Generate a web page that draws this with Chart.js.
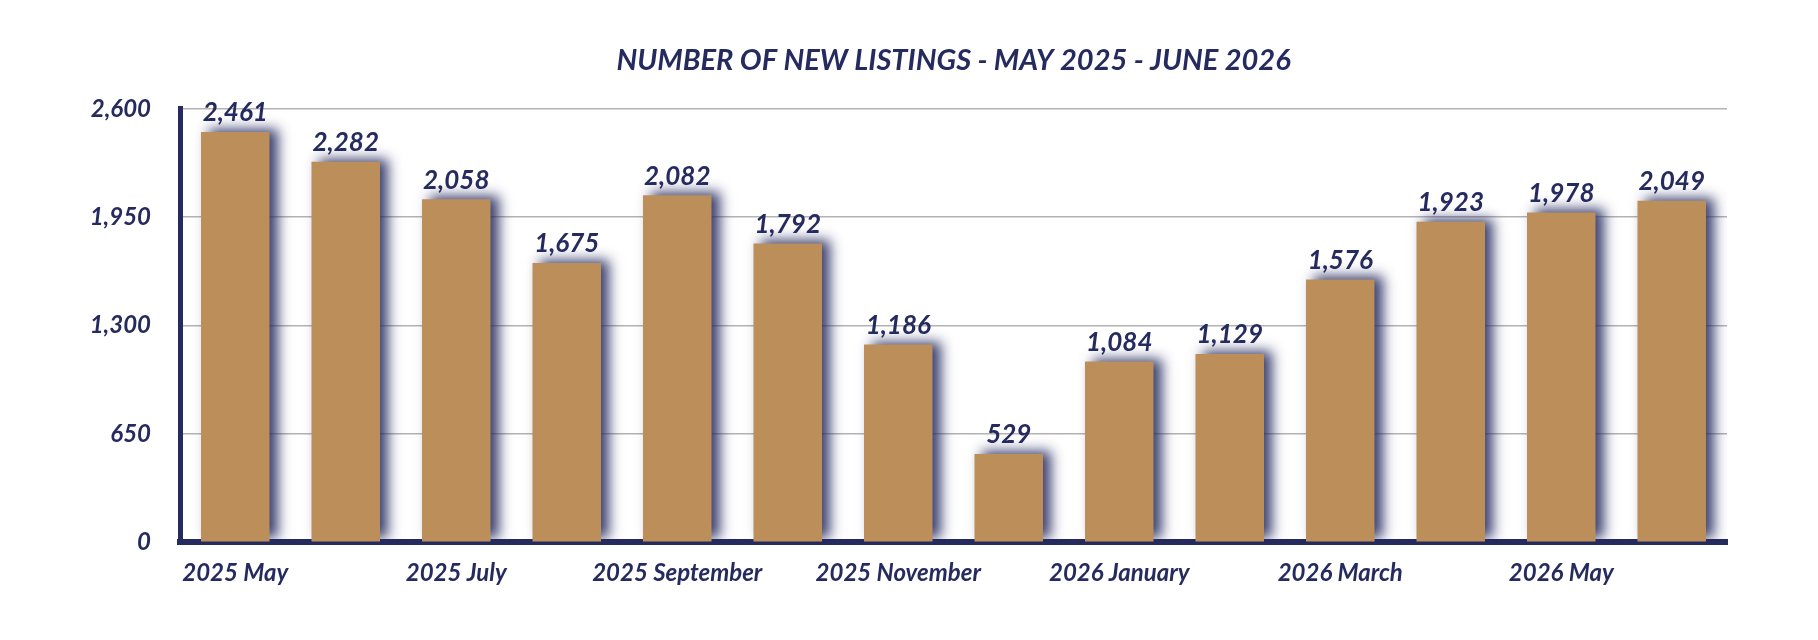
<!DOCTYPE html>
<html>
<head>
<meta charset="utf-8">
<script src="https://cdn.jsdelivr.net/npm/chart.js@4.4.0/dist/chart.umd.min.js"></script>
<style>
  html, body { margin: 0; padding: 0; background: #fff; }
  #wrap { width: 1818px; height: 640px; }
</style>
</head>
<body>
<div id="wrap"><canvas id="barChart" width="1818" height="640"></canvas></div>
<script>
var months = ["2025 May", "2025 June", "2025 July", "2025 August", "2025 September", "2025 October",
  "2025 November", "2025 December", "2026 January", "2026 February", "2026 March", "2026 April",
  "2026 May", "2026 June"];
var newListings = [2461, 2282, 2058, 1675, 2082, 1792, 1186, 529, 1084, 1129, 1576, 1923, 1978, 2049];
var yTicks = [0, 650, 1300, 1950, 2600];

var navy = "#262b5f";
var gold = "#bc8f5a";
var fontFamily = "Lato, 'Noto Sans', sans-serif";

// bar shadow
var shadowPlugin = {
  id: "barShadow",
  beforeDatasetsDraw: function (chart) {
    var ctx = chart.ctx;
    ctx.save();
    ctx.shadowColor = "rgba(38,43,95,0.9)";
    ctx.shadowBlur = 12;
    ctx.shadowOffsetX = 8;
    ctx.shadowOffsetY = -3;
  },
  afterDatasetsDraw: function (chart) {
    chart.ctx.restore();
  }
};

// value labels above the bars
var valueLabels = {
  id: "valueLabels",
  afterDraw: function (chart) {
    var ctx = chart.ctx;
    var meta = chart.getDatasetMeta(0);
    ctx.save();
    ctx.fillStyle = navy;
    ctx.font = "italic bold 26px " + fontFamily;
    ctx.textAlign = "center";
    ctx.textBaseline = "bottom";
    meta.data.forEach(function (bar, i) {
      ctx.fillText(newListings[i].toLocaleString("en-US"), bar.x, bar.y - 6);
    });
    ctx.restore();
  }
};

var ctx = document.getElementById("barChart").getContext("2d");
var chart = new Chart(ctx, {
  type: "bar",
  data: {
    labels: months,
    datasets: [{
      label: "New listings",
      data: newListings,
      backgroundColor: gold,
      borderWidth: 0,
      barPercentage: 0.62,
      categoryPercentage: 1
    }]
  },
  options: {
    responsive: false,
    animation: false,
    layout: { padding: { left: 0, right: 91, top: 43, bottom: 35 } },
    plugins: {
      legend: { display: false },
      tooltip: { enabled: false },
      title: {
        display: true,
        fullSize: false,
        text: "NUMBER OF NEW LISTINGS - MAY 2025 - JUNE 2026",
        color: navy,
        font: { family: fontFamily, size: 29, style: "italic", weight: "bold" },
        padding: { top: 0, bottom: 31 }
      }
    },
    scales: {
      x: {
        grid: { display: false, drawTicks: false },
        border: { display: true, color: navy, width: 6 },
        ticks: {
          autoSkip: false,
          maxRotation: 0,
          padding: 17,
          color: navy,
          font: { family: fontFamily, size: 24, style: "italic", weight: "bold" },
          callback: function (value, index) {
            return index % 2 === 0 ? months[index] : "";
          }
        }
      },
      y: {
        min: 0,
        max: 2600,
        afterBuildTicks: function (scale) {
          scale.ticks = yTicks.map(function (v) { return { value: v }; });
        },
        afterFit: function (scale) { scale.width = 180; },
        grid: { color: "#b3b3b3", lineWidth: 1.5, drawTicks: false },
        border: { display: true, color: navy, width: 5 },
        ticks: {
          padding: 29,
          color: navy,
          font: { family: fontFamily, size: 24, style: "italic", weight: "bold" },
          callback: function (value) { return value.toLocaleString("en-US"); }
        }
      }
    }
  },
  plugins: [shadowPlugin, valueLabels]
});
</script>
</body>
</html>
